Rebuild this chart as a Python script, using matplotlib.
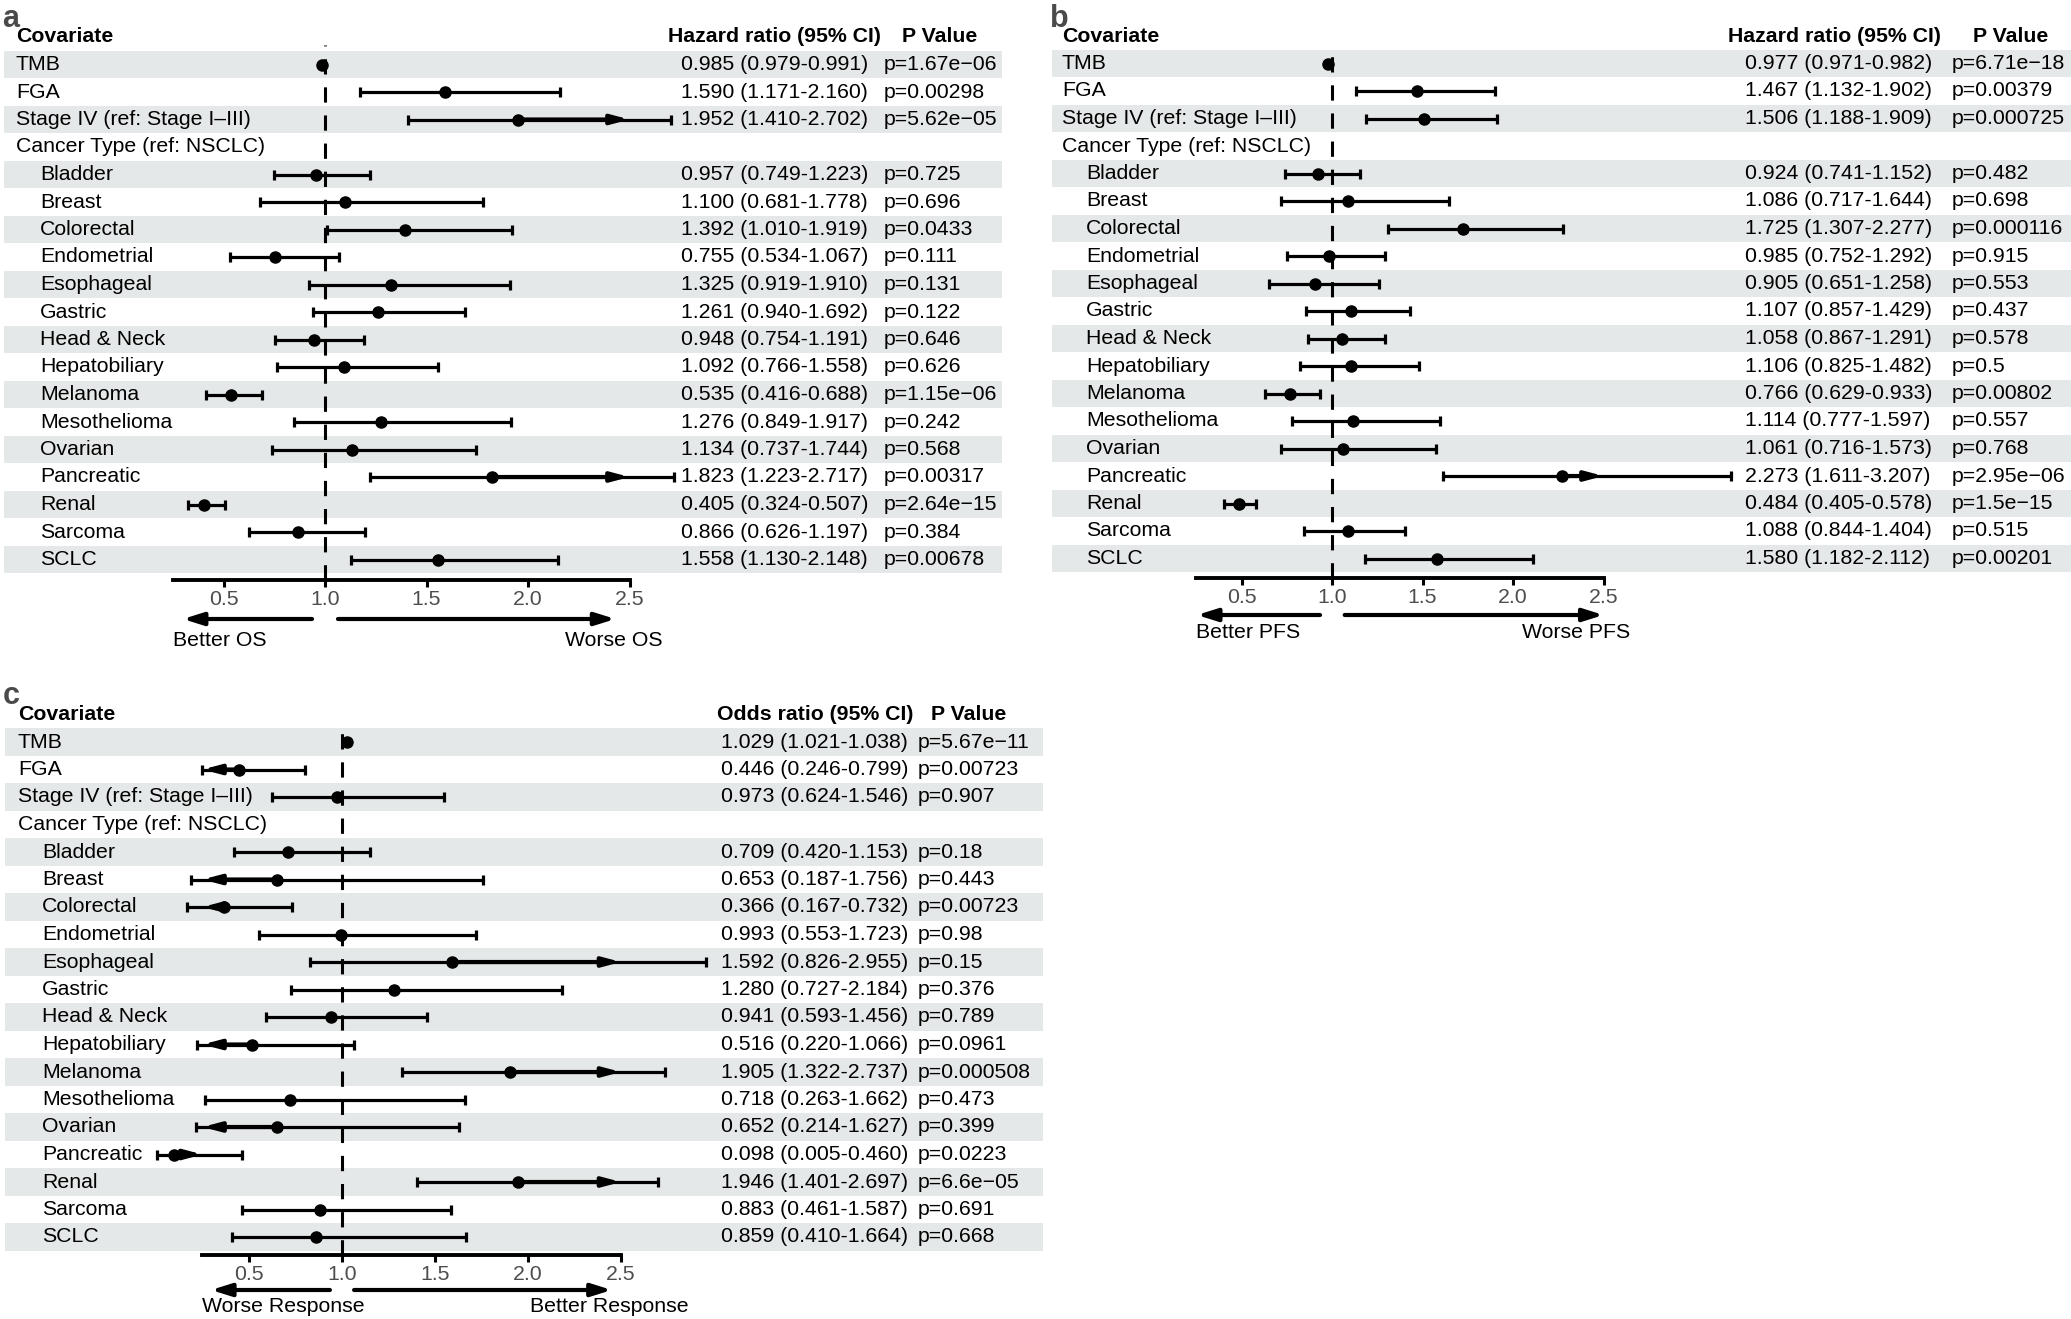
import numpy as np
import matplotlib.pyplot as plt
from matplotlib.transforms import blended_transform_factory

plt.rcParams['font.family'] = ['Liberation Sans', 'DejaVu Sans']

W, H = 2071, 1319

covariates = ["TMB", "FGA", "Stage IV (ref: Stage I\u2013III)", "Cancer Type (ref: NSCLC)",
              "Bladder", "Breast", "Colorectal", "Endometrial", "Esophageal", "Gastric",
              "Head & Neck", "Hepatobiliary", "Melanoma", "Mesothelioma", "Ovarian",
              "Pancreatic", "Renal", "Sarcoma", "SCLC"]
indented = [False] * 4 + [True] * 15
# row 3 is the cancer type heading, it has no estimate
est_rows = [0, 1, 2] + list(range(4, 19))

# a: overall survival
os_hr = [0.985, 1.590, 1.952, 0.957, 1.100, 1.392, 0.755, 1.325, 1.261, 0.948,
         1.092, 0.535, 1.276, 1.134, 1.823, 0.405, 0.866, 1.558]
os_lo = [0.979, 1.171, 1.410, 0.749, 0.681, 1.010, 0.534, 0.919, 0.940, 0.754,
         0.766, 0.416, 0.849, 0.737, 1.223, 0.324, 0.626, 1.130]
os_hi = [0.991, 2.160, 2.702, 1.223, 1.778, 1.919, 1.067, 1.910, 1.692, 1.191,
         1.558, 0.688, 1.917, 1.744, 2.717, 0.507, 1.197, 2.148]
os_p = ["1.67e\u221206", "0.00298", "5.62e\u221205", "0.725", "0.696", "0.0433", "0.111",
        "0.131", "0.122", "0.646", "0.626", "1.15e\u221206", "0.242", "0.568", "0.00317",
        "2.64e\u221215", "0.384", "0.00678"]

# b: progression-free survival
pfs_hr = [0.977, 1.467, 1.506, 0.924, 1.086, 1.725, 0.985, 0.905, 1.107, 1.058,
          1.106, 0.766, 1.114, 1.061, 2.273, 0.484, 1.088, 1.580]
pfs_lo = [0.971, 1.132, 1.188, 0.741, 0.717, 1.307, 0.752, 0.651, 0.857, 0.867,
          0.825, 0.629, 0.777, 0.716, 1.611, 0.405, 0.844, 1.182]
pfs_hi = [0.982, 1.902, 1.909, 1.152, 1.644, 2.277, 1.292, 1.258, 1.429, 1.291,
          1.482, 0.933, 1.597, 1.573, 3.207, 0.578, 1.404, 2.112]
pfs_p = ["6.71e\u221218", "0.00379", "0.000725", "0.482", "0.698", "0.000116", "0.915",
         "0.553", "0.437", "0.578", "0.5", "0.00802", "0.557", "0.768", "2.95e\u221206",
         "1.5e\u221215", "0.515", "0.00201"]

# c: response (odds ratio)
or_est = [1.029, 0.446, 0.973, 0.709, 0.653, 0.366, 0.993, 1.592, 1.280, 0.941,
          0.516, 1.905, 0.718, 0.652, 0.098, 1.946, 0.883, 0.859]
or_lo = [1.021, 0.246, 0.624, 0.420, 0.187, 0.167, 0.553, 0.826, 0.727, 0.593,
         0.220, 1.322, 0.263, 0.214, 0.005, 1.401, 0.461, 0.410]
or_hi = [1.038, 0.799, 1.546, 1.153, 1.756, 0.732, 1.723, 2.955, 2.184, 1.456,
         1.066, 2.737, 1.662, 1.627, 0.460, 2.697, 1.587, 1.664]
or_p = ["5.67e\u221211", "0.00723", "0.907", "0.18", "0.443", "0.00723", "0.98", "0.15",
        "0.376", "0.789", "0.0961", "0.000508", "0.473", "0.399", "0.0223", "6.6e\u221205",
        "0.691", "0.668"]

ticks = [0.5, 1.0, 1.5, 2.0, 2.5]
lim = (0.25, 2.5)

band = '#E5E8E8'
fs = 15.3
step = 27.5

fig = plt.figure(figsize=(W / 100, H / 100), dpi=100)


def forest(letter, box, row0, one_px, unit_px, est, lo, hi, pv, head, cols,
           arr_y, arr_left, arr_right, words, word_y, word_x):
    left, right, top, bottom = box
    ax = fig.add_axes([left / W, 1 - bottom / H, (right - left) / W, (bottom - top) / H])
    ax.set_xlim(1 + (left - one_px) / unit_px, 1 + (right - one_px) / unit_px)
    ax.set_ylim((bottom - row0) / step, (top - row0) / step)
    tr = blended_transform_factory(fig.transFigure, ax.transData)

    for i in range(0, len(covariates), 2):
        ax.axhspan(i - 0.5, i + 0.5, color=band, lw=0, zorder=0)

    ax.axvline(1.0, color='k', lw=2.2, dashes=(5, 4.2), zorder=1)

    lab_x, ind_x, ci_x, ci_hx, p_x, p_hx = cols
    ax.text(lab_x / W, -1, "Covariate", transform=tr, va='center', fontsize=fs, fontweight='bold')
    ax.text(ci_hx / W, -1, head, transform=tr, va='center', fontsize=fs, fontweight='bold')
    ax.text(p_hx / W, -1, "P Value", transform=tr, va='center', fontsize=fs, fontweight='bold')
    for i, (name, ind) in enumerate(zip(covariates, indented)):
        ax.text((ind_x if ind else lab_x) / W, i, name, transform=tr, va='center', fontsize=fs)

    est, lo, hi = np.array(est), np.array(lo), np.array(hi)
    y = np.array(est_rows)
    for e, l, h, p, r in zip(est, lo, hi, pv, y):
        ax.text(ci_x / W, r, f"{e:.3f} ({l:.3f}-{h:.3f})", transform=tr, va='center', fontsize=fs)
        ax.text(p_x / W, r, "p=" + p, transform=tr, va='center', fontsize=fs)
        # arrows where the interval runs past the axis limits
        for out, edge in ((l < lim[0], lim[0]), (h > lim[1], lim[1])):
            if out:
                ax.annotate('', xy=(edge, r), xytext=(e, r), annotation_clip=False,
                            arrowprops=dict(arrowstyle='-|>,head_length=0.6,head_width=0.16',
                                            mutation_scale=17, lw=3, color='k',
                                            shrinkA=0, shrinkB=0), zorder=4)

    ax.errorbar(est, y, xerr=[est - lo, hi - est], fmt='o', color='k', ms=8,
                elinewidth=2.3, capsize=3.3, capthick=2.3, zorder=3, clip_on=False)

    for s in ('top', 'left', 'right'):
        ax.spines[s].set_visible(False)
    ax.spines['bottom'].set_linewidth(2.8)
    ax.spines['bottom'].set_bounds(*lim)
    ax.set_yticks([])
    ax.set_xticks(ticks)
    ax.set_xticklabels([f"{t:.1f}" for t in ticks])
    ax.tick_params(axis='x', length=5, width=2.2, pad=2, labelsize=fs, labelcolor='#4D4D4D')
    ax.patch.set_visible(False)

    ya = (arr_y - row0) / step
    for a, b in (arr_left, arr_right):
        ax.annotate('', xy=(b, ya), xytext=(a, ya), annotation_clip=False,
                    arrowprops=dict(arrowstyle='-|>,head_length=0.7,head_width=0.22',
                                    mutation_scale=17, lw=3, color='k', shrinkA=0, shrinkB=0))
    yw = (word_y - row0) / step
    ax.text(word_x[0], yw, words[0], ha='left', va='center', fontsize=fs)
    ax.text(word_x[1], yw, words[1], ha='right', va='center', fontsize=fs)

    fig.text(box[0] / W - 0.001, 1 - (top - 41) / H, letter, fontsize=22, fontweight='bold',
             color='#4A4A4A', va='top', ha='left')
    return ax


forest('a', (4, 1002, 45, 580), 64.5, 325, 203, os_hr, os_lo, os_hi, os_p,
       "Hazard ratio (95% CI)", (16, 40, 681, 668, 884, 902),
       619, (0.936, 0.30), (1.064, 2.43), ("Better OS", "Worse OS"), 640, (0.25, 2.665))

forest('b', (1052, 2071, 45, 578), 63.5, 1332, 181, pfs_hr, pfs_lo, pfs_hi, pfs_p,
       "Hazard ratio (95% CI)", (1062, 1086, 1745, 1728, 1952, 1973),
       615, (0.934, 0.254), (1.07, 2.5), ("Better PFS", "Worse PFS"), 633, (0.25, 2.646))

forest('c', (5, 1043, 722, 1255), 742, 342, 186, or_est, or_lo, or_hi, or_p,
       "Odds ratio (95% CI)", (18, 42, 721, 717, 918, 931),
       1290, (0.935, 0.296), (1.065, 2.45), ("Worse Response", "Better Response"), 1307,
       (0.247, 2.866))

fig.savefig('out.png', dpi=100)
